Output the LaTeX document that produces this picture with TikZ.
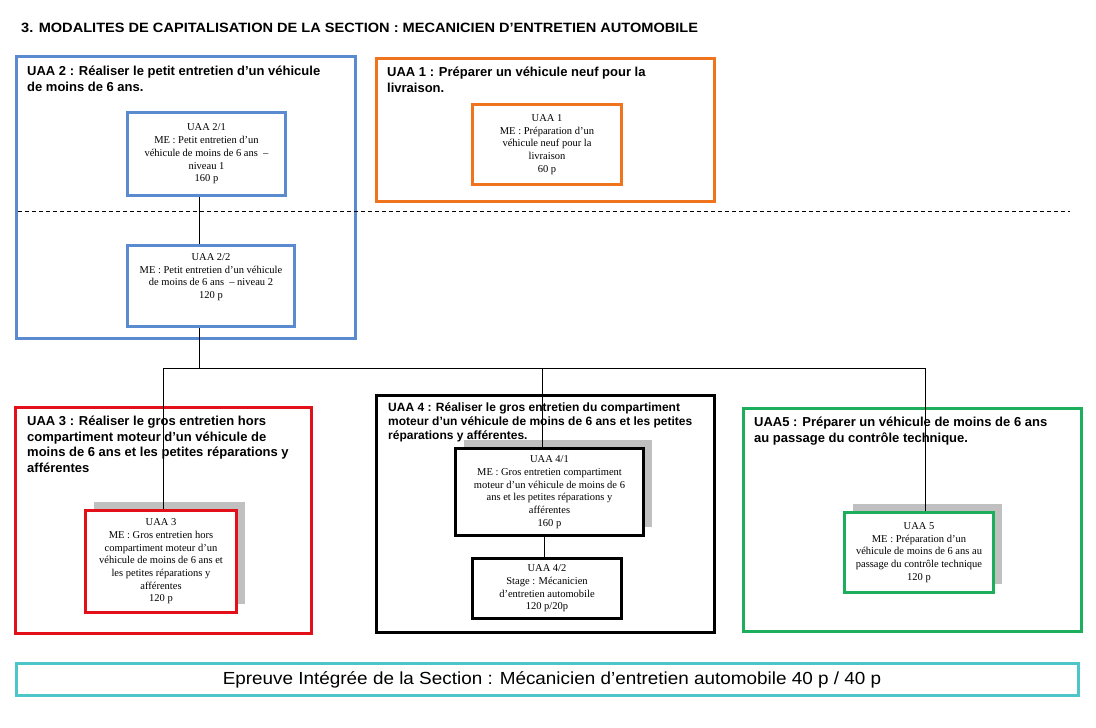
\documentclass[tikz,border=0pt]{standalone}
\usepackage{fontspec}
\setmainfont{Liberation Serif}
\setsansfont{Liberation Sans}
\newfontfamily\widesans[FakeStretch=1.08]{Liberation Sans}
\usepackage{tikz}
\usetikzlibrary{shadows}

\definecolor{uaablue}{HTML}{5A8AD0}
\definecolor{uaaorange}{HTML}{F0741E}
\definecolor{uaared}{HTML}{E3101A}
\definecolor{uaagreen}{HTML}{1DAE5C}
\definecolor{uaateal}{HTML}{4CC6C8}
\definecolor{shadowgray}{HTML}{C0C0C0}

\newcommand\boxfont{\rmfamily\fontsize{10.5}{12.7}\selectfont}
\newcommand\uaafont{\sffamily\bfseries\fontsize{13}{16}\selectfont}

\tikzset{
  frame/.style={draw=#1, line width=2.6pt, inner sep=0pt},
  inbox/.style={draw=#1, line width=2.6pt, fill=white, align=center,
    inner sep=1pt, font=\boxfont},
  shadowed/.style={drop shadow={shadow xshift=8.5pt, shadow yshift=8.5pt,
    fill=shadowgray, opacity=1}},
  uaatitle/.style={anchor=north west, align=left, inner sep=0pt, font=\uaafont},
  link/.style={line width=0.8pt}
}

\begin{document}
\begin{tikzpicture}[x=1pt, y=-1pt]
    \useasboundingbox (0,0) rectangle (1096,728);

    % title
    \node[anchor=base west, inner sep=0pt, font=\widesans\bfseries\fontsize{13.5}{16}\selectfont]
      (maintitle) at (21,32) {3. MODALITES DE CAPITALISATION DE LA SECTION : MECANICIEN D’ENTRETIEN AUTOMOBILE};

    % UAA 2
    \node[frame=uaablue, minimum width=339, minimum height=282] (u2) at (186,197.5) {};
    \node[uaatitle] (t2) at (27,66) {UAA 2 : Réaliser le petit entretien d’un véhicule\\de moins de 6 ans.};
    \node[inbox=uaablue, minimum width=158, minimum height=83] (u21) at (206.5,154)
      {UAA 2/1\\ME : Petit entretien d’un\\véhicule de moins de 6 ans~ –\\niveau 1\\160 p};
    \node[inbox=uaablue, minimum width=167, minimum height=81] (u22) at (211,286) {};
    \node[anchor=north, align=center, inner sep=0pt, font=\boxfont] (u22text) at ([yshift=-9pt]u22.north)
      {UAA 2/2\\ME : Petit entretien d’un véhicule\\de moins de 6 ans~ – niveau 2\\120 p};

    % UAA 1
    \node[frame=uaaorange, minimum width=338, minimum height=143] (u1) at (545.5,130) {};
    \node[uaatitle] (t1) at (387,67) {UAA 1 : Préparer un véhicule neuf pour la\\livraison.};
    \node[inbox=uaaorange, minimum width=149, minimum height=80] (u11) at (547,144.5)
      {UAA 1\\ME : Préparation d’un\\véhicule neuf pour la\\livraison\\60 p};

    % separation
    \coordinate (sepL) at (18,211);
    \coordinate (sepR) at (1070,211);
    \draw[link, dash pattern=on 4pt off 3pt] (sepL) -- (sepR);

    % UAA 3
    \node[frame=uaared, minimum width=296, minimum height=226] (u3) at (163.5,520.5) {};
    \node[uaatitle, font=\sffamily\bfseries\fontsize{13}{15.5}\selectfont] (t3) at (27,416)
      {UAA 3 : Réaliser le gros entretien hors\\compartiment moteur d’un véhicule de\\moins de 6 ans et les petites réparations y\\afférentes};
    \node[inbox=uaared, shadowed, minimum width=151, minimum height=102] (u3i) at (161,561.5)
      {UAA 3\\ME : Gros entretien hors\\compartiment moteur d’un\\véhicule de moins de 6 ans et\\les petites réparations y\\afférentes\\120 p};

    % UAA 4
    \node[frame=black, minimum width=338, minimum height=237] (u4) at (545.5,514) {};
    \node[uaatitle, font=\sffamily\bfseries\fontsize{12}{14}\selectfont] (t4) at (388,402)
      {UAA 4 : Réaliser le gros entretien du compartiment\\moteur d’un véhicule de moins de 6 ans et les petites\\réparations y afférentes.};
    \node[inbox=black, shadowed, minimum width=188, minimum height=87] (u41) at (549.5,492)
      {UAA 4/1\\ME : Gros entretien compartiment\\moteur d’un véhicule de moins de 6\\ans et les petites réparations y\\afférentes\\160 p};
    \node[inbox=black, minimum width=149, minimum height=60] (u42) at (547,588.5)
      {UAA 4/2\\Stage : Mécanicien\\d’entretien automobile\\120 p/20p};

    % UAA 5
    \node[frame=uaagreen, minimum width=338, minimum height=223] (u5) at (912.5,520) {};
    \node[uaatitle] (t5) at (754,417) {UAA5 : Préparer un véhicule de moins de 6 ans\\au passage du contrôle technique.};
    \node[inbox=uaagreen, shadowed, minimum width=149, minimum height=80] (u5i) at (919,552.5)
      {UAA 5\\ME : Préparation d’un\\véhicule de moins de 6 ans au\\passage du contrôle technique\\120 p};

    % epreuve integree
    \node[frame=uaateal, minimum width=1062, minimum height=32] (epreuve) at (547.5,679.5) {};
    \node[inner sep=0pt, font=\widesans\fontsize{17.5}{20}\selectfont] (epreuvetext)
      at ([xshift=4.5pt]epreuve.center)
      {Epreuve Intégrée de la Section : Mécanicien d’entretien automobile 40 p / 40 p};

    % links
    \coordinate (bus) at (199,368);
    \draw[link] ([xshift=-7.5pt]u21.south) -- ([xshift=-7.5pt]u21.south |- u22.north);
    \draw[link] ([xshift=-12pt]u22.south) -- (bus);
    \draw[link] ([xshift=2pt]u3i.north) |- ([xshift=6pt]u5i.north |- bus) -- ([xshift=6pt]u5i.north);
    \draw[link] ([xshift=-7.5pt]u41.north) -- ([xshift=-7.5pt]u41.north |- bus);
    \draw[link] ([xshift=-5pt]u41.south) -- ([xshift=-5pt]u41.south |- u42.north);
\end{tikzpicture}
\end{document}
